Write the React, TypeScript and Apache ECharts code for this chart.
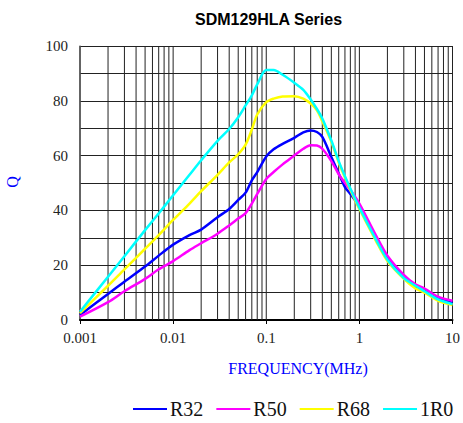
import React, { useEffect, useRef } from 'react';
import * as echarts from 'echarts';

const frequencies = [0.001, 0.002, 0.003, 0.005, 0.007, 0.01, 0.015, 0.02, 0.03, 0.04, 0.05, 0.06, 0.07, 0.08, 0.1, 0.12, 0.15, 0.2, 0.25, 0.3, 0.35, 0.4, 0.5, 0.6, 0.7, 0.8, 1, 1.5, 2, 3, 4, 5, 7, 10];

const r32 = [1.8, 9.5, 14, 19.5, 23.5, 27.5, 31, 33, 37.5, 40.5, 43.8, 46.5, 51, 54, 59.7, 62.3, 64.3, 66.5, 68.5, 69.2, 68.6, 66.8, 59.5, 53.5, 48.5, 46, 41.5, 30, 23, 16, 12.5, 11, 8, 6.3];
const r50 = [1.2, 6.5, 10.5, 15, 18.5, 21.5, 25.5, 28, 31.5, 34.5, 37, 39, 42.5, 46, 51.5, 54, 56.8, 60, 62.5, 63.8, 63.7, 62.5, 58, 53.2, 50, 47.5, 42.5, 31, 23.5, 16.5, 13, 11.5, 8.5, 7];
const r68 = [2.5, 12.5, 18.5, 26, 31, 36.5, 42.5, 47, 53, 57.5, 60.5, 64, 69.5, 75, 79.5, 80.8, 81.6, 81.7, 80.8, 79, 76.5, 72.5, 65, 57.5, 52, 47.5, 40.5, 29, 21.5, 15, 11.5, 10, 7, 5.5];
const r1r0 = [3, 15.8, 23.3, 32.8, 38.9, 45.5, 53, 58.3, 65.4, 69.7, 74, 78.3, 82, 86, 91.2, 91.2, 89.5, 86.6, 84, 80.5, 77, 73.5, 65.5, 58, 52.5, 48, 41, 29.5, 22, 15.3, 12.5, 10.5, 7.5, 5.8];

const seriesNames = ['R32', 'R50', 'R68', '1R0'];
const seriesValues = [r32, r50, r68, r1r0];
const seriesColors = ['#0000FF', '#FF00FF', '#FFFF00', '#00FFFF'];

const xTickLabels = ['0.001', '0.01', '0.1', '1', '10'];
const decades = [0.001, 0.01, 0.1, 1];
const multipliers = [1, 2, 3, 4, 5, 6, 7, 8, 9];
const gridFreqs: number[] = [];
decades.forEach((d) => multipliers.forEach((m) => gridFreqs.push(+(d * m).toPrecision(3))));
gridFreqs.push(10);

export default function App() {
  const ref = useRef<HTMLDivElement>(null);
  useEffect(() => {
    const chart = echarts.init(ref.current as HTMLDivElement, null, { renderer: 'svg' });
    const serif = 'Liberation Serif';
    chart.setOption({
      animation: false,
      backgroundColor: '#ffffff',
      title: {
        text: 'SDM129HLA Series',
        left: 190,
        top: 6,
        textStyle: { fontFamily: 'Liberation Sans', fontWeight: 'bold', fontSize: 16, color: '#000' },
      },
      grid: { left: 80, right: 6, top: 46, bottom: 103 },
      xAxis: {
        type: 'log',
        logBase: 10,
        min: 0.001,
        max: 10,
        axisLine: { show: true, lineStyle: { color: '#000', width: 2 } },
        axisTick: { show: true, length: 4, lineStyle: { color: '#000' } },
        splitLine: { show: false },
        axisLabel: {
          margin: 10,
          fontFamily: serif,
          fontSize: 15,
          color: '#222',
          formatter: (v: number) => xTickLabels[Math.round(Math.log10(v)) + 3],
        },
      },
      yAxis: {
        type: 'value',
        min: 0,
        max: 100,
        interval: 10,
        axisLine: { show: true, lineStyle: { color: '#888', width: 1.5 } },
        axisTick: { show: false },
        splitLine: { show: true, lineStyle: { color: '#222', width: 1 } },
        axisLabel: {
          margin: 12,
          fontFamily: serif,
          fontSize: 15,
          color: '#222',
          formatter: (v: number) => (v % 20 === 0 ? String(v) : ''),
        },
      },
      legend: {
        data: seriesNames,
        left: 133,
        top: 399,
        width: 330,
        padding: 0,
        icon: 'rect',
        itemWidth: 34,
        itemHeight: 2,
        itemGap: 13,
        textStyle: { fontFamily: serif, fontSize: 20, color: '#111', padding: [0, 0, 0, -2] },
      },
      graphic: [
        {
          type: 'text',
          x: 12,
          y: 182,
          rotation: Math.PI / 2,
          style: { text: 'Q', fontFamily: serif, fontSize: 16, fill: '#0000FF', align: 'center', verticalAlign: 'middle' },
        },
        {
          type: 'text',
          x: 298,
          y: 368,
          style: { text: 'FREQUENCY(MHz)', fontFamily: serif, fontSize: 16, fill: '#0000FF', align: 'center', verticalAlign: 'middle' },
        },
      ],
      series: [
        {
          type: 'custom',
          name: 'grid',
          silent: true,
          z: 1,
          data: gridFreqs.map((f) => [f, 0]),
          encode: { x: 0, y: 1 },
          renderItem: (params: any, api: any) => {
            const f = api.value(0);
            const p0 = api.coord([f, 0]);
            const p1 = api.coord([f, 100]);
            return {
              type: 'line',
              shape: { x1: p0[0], y1: p0[1], x2: p1[0], y2: p1[1] },
              style: { stroke: '#222', lineWidth: 1 },
            };
          },
        },
        ...seriesNames.map((name, i) => ({
          type: 'line',
          name,
          z: 3,
          data: frequencies.map((f, j) => [f, seriesValues[i][j]]),
          showSymbol: false,
          symbol: 'none',
          smooth: 0.3,
          color: seriesColors[i],
          lineStyle: { color: seriesColors[i], width: 2.5 },
        })),
      ],
    });
    return () => chart.dispose();
  }, []);
  return <div ref={ref} style={{ position: 'fixed', left: 0, top: 0, width: 463, height: 423 }} />;
}
